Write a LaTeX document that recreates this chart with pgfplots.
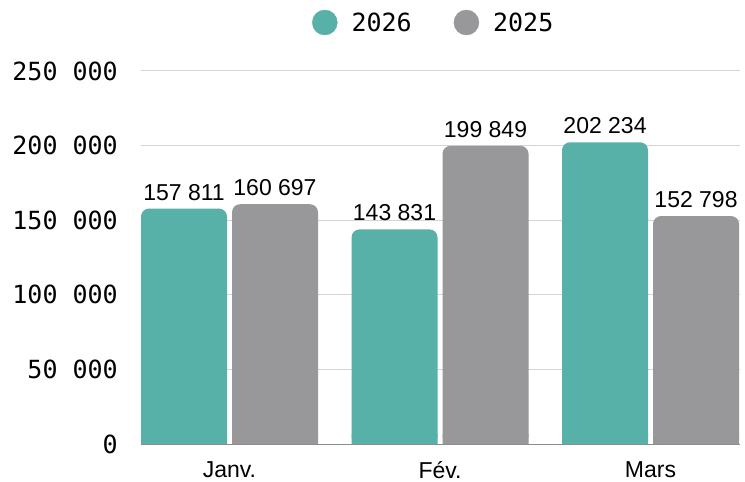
\documentclass[border=0pt]{standalone}
\usepackage{pgfplots}
\pgfplotsset{compat=1.18}
\usepackage{pgfplotstable}
\usepackage{fontspec}
\setmainfont{Liberation Sans}
\newfontfamily\tickfont{DejaVu Sans Mono}
\definecolor{c26}{HTML}{58B1A8}
\definecolor{c25}{HTML}{98989A}
\definecolor{gridc}{HTML}{D4D4D4}
\pgfplotstableread{
x a b
0 157811 160697
1 143831 199849
2 202234 152798
}\data
\begin{document}
\begin{tikzpicture}
\path[use as bounding box] (0,0) rectangle (745bp,482bp);
\begin{axis}[
  at={(141bp,38bp)}, anchor=south west,
  scale only axis, width=599bp, height=373bp,
  xmin=-0.4204, xmax=2.425, ymin=0, ymax=250000,
  xtick=data, xticklabels={Janv.,Fév.,Mars},
  ytick={0,50000,100000,150000,200000,250000},
  scaled y ticks=false,
  yticklabel={\pgfmathprintnumber[fixed,precision=0,1000 sep={\ },assume math mode=true]{\tick}},
  ymajorgrids, grid style={gridc, line width=1bp},
  axis x line*=bottom, axis y line*=left,
  x axis line style={draw=black!45, line width=1bp, -},
  y axis line style={draw=none},
  major tick length=0pt,
  tick label style={inner sep=0pt},
  yticklabel style={font=\tickfont\fontsize{25bp}{28bp}\selectfont, anchor=east, xshift=-23bp},
  xticklabel style={font=\fontsize{23bp}{26bp}\selectfont, anchor=north, yshift=-17bp},
  bar width=86bp,
  legend style={at={(0.487,1.13)}, anchor=center, draw=none, fill=none,
    font=\tickfont\fontsize{25bp}{28bp}\selectfont, legend columns=2,
    nodes={inner sep=0pt},
    /tikz/every odd column/.append style={column sep=14bp},
    /tikz/every even column/.append style={column sep=42bp}},
]
\addlegendimage{legend image code/.code={\fill[c26] (12bp,0bp) circle (12.5bp);}}
\addlegendentry{2026}
\addlegendimage{legend image code/.code={\fill[c25] (12bp,0bp) circle (12.5bp);}}
\addlegendentry{2025}
\addplot[ybar, bar shift=-45.5bp, fill=c26, draw=none, rounded corners=8bp,
  nodes near coords={\pgfmathprintnumber[fixed,precision=0,1000 sep={\ },assume math mode=true]{\pgfplotspointmeta}},
  every node near coord/.append style={font=\fontsize{23bp}{26bp}\selectfont, anchor=south, inner sep=0pt, yshift=8bp, xshift=-45.5bp, text=black}]
  table[x=x, y=a]{\data};
\addplot[ybar, bar shift=-45.5bp, fill=c26, draw=none] table[x=x, y expr={min(\thisrow{a},7000)}]{\data};
\addplot[ybar, bar shift=45.5bp, fill=c25, draw=none, rounded corners=8bp,
  nodes near coords={\pgfmathprintnumber[fixed,precision=0,1000 sep={\ },assume math mode=true]{\pgfplotspointmeta}},
  every node near coord/.append style={font=\fontsize{23bp}{26bp}\selectfont, anchor=south, inner sep=0pt, yshift=8bp, xshift=45.5bp, text=black}]
  table[x=x, y=b]{\data};
\addplot[ybar, bar shift=45.5bp, fill=c25, draw=none] table[x=x, y expr={min(\thisrow{b},7000)}]{\data};
\end{axis}
\end{tikzpicture}
\end{document}
